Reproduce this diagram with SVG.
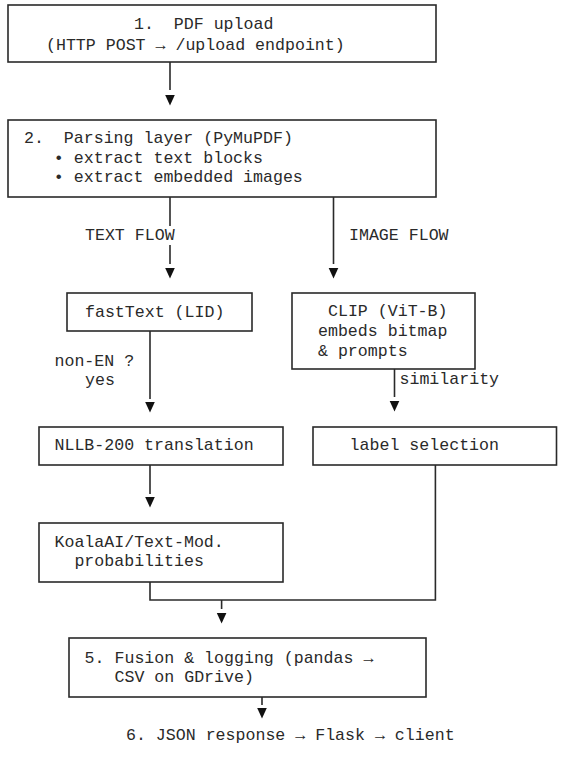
<svg xmlns="http://www.w3.org/2000/svg" xmlns:xlink="http://www.w3.org/1999/xlink" width="577" height="760" viewBox="0 0 577 760">
<style>
  .box { fill: #ffffff; stroke: #2a2a2a; stroke-width: 1.6; }
  .t { font-family: "Liberation Mono", "DejaVu Sans Mono", monospace; font-size: 16.6px; fill: #2a2a2a; white-space: pre; }
  .ln { stroke: #2a2a2a; stroke-width: 1.6; fill: none; }
  .ah { fill: #111111; }
</style>
<defs>
  <path id="head" d="M-4.8,0 L4.8,0 L0,10.5 Z"/>
</defs>
<rect width="577" height="760" fill="#ffffff"/>

<g id="n1">
  <rect class="box" x="8" y="5" width="428" height="57"/>
  <text class="t" x="134" y="29">1.  PDF upload</text>
  <text class="t" x="46" y="50">(HTTP POST → /upload endpoint)</text>
</g>

<g id="n2">
  <rect class="box" x="8" y="120" width="428" height="77"/>
  <text class="t" x="24" y="143">2.  Parsing layer (PyMuPDF)</text>
  <text class="t" x="24" y="163">   • extract text blocks</text>
  <text class="t" x="24" y="182">   • extract embedded images</text>
</g>

<g id="n3">
  <rect class="box" x="67" y="293" width="185" height="38"/>
  <text class="t" x="85" y="317">fastText (LID)</text>
</g>

<g id="n4">
  <rect class="box" x="292" y="293" width="183" height="76"/>
  <text class="t" x="328" y="316">CLIP (ViT-B)</text>
  <text class="t" x="318" y="336">embeds bitmap</text>
  <text class="t" x="318" y="356">&amp; prompts</text>
</g>

<g id="n5">
  <rect class="box" x="39" y="427" width="244" height="38"/>
  <text class="t" x="54.5" y="450">NLLB-200 translation</text>
</g>

<g id="n6">
  <rect class="box" x="313" y="427" width="243.5" height="38"/>
  <text class="t" x="349.6" y="450">label selection</text>
</g>

<g id="n7">
  <rect class="box" x="39" y="523" width="244" height="59"/>
  <text class="t" x="54.5" y="547">KoalaAI/Text-Mod.</text>
  <text class="t" x="54.5" y="566">  probabilities</text>
</g>

<g id="n8">
  <rect class="box" x="69" y="638" width="357" height="59"/>
  <text class="t" x="84.6" y="663">5. Fusion &amp; logging (pandas →</text>
  <text class="t" x="84.6" y="682">   CSV on GDrive)</text>
</g>

<g id="n9">
  <text class="t" x="126" y="740">6. JSON response → Flask → client</text>
</g>

<g id="connectors">
  <line class="ln" x1="170" y1="62" x2="170" y2="90"/>
  <use href="#head" xlink:href="#head" class="ah" x="170" y="95"/>

  <line class="ln" x1="170" y1="197" x2="170" y2="226"/>
  <line class="ln" x1="170" y1="245" x2="170" y2="264"/>
  <use href="#head" xlink:href="#head" class="ah" x="170" y="268"/>
  <text class="t" x="85" y="240">TEXT FLOW</text>

  <line class="ln" x1="333.5" y1="197" x2="333.5" y2="264"/>
  <use href="#head" xlink:href="#head" class="ah" x="333.5" y="268"/>
  <text class="t" x="349" y="240">IMAGE FLOW</text>

  <line class="ln" x1="150" y1="331" x2="150" y2="399"/>
  <use href="#head" xlink:href="#head" class="ah" x="150" y="402"/>
  <text class="t" x="54.5" y="366">non-EN ?</text>
  <text class="t" x="85" y="385">yes</text>

  <line class="ln" x1="394.5" y1="369" x2="394.5" y2="397"/>
  <use href="#head" xlink:href="#head" class="ah" x="394.5" y="401"/>
  <text class="t" x="399.5" y="384">similarity</text>

  <line class="ln" x1="150" y1="465" x2="150" y2="494"/>
  <use href="#head" xlink:href="#head" class="ah" x="150" y="497"/>

  <polyline class="ln" points="150,582 150,600 435.4,600 435.4,465"/>
  <line class="ln" x1="221.6" y1="600" x2="221.6" y2="609"/>
  <use href="#head" xlink:href="#head" class="ah" x="221.6" y="613"/>

  <line class="ln" x1="262" y1="697" x2="262" y2="705"/>
  <use href="#head" xlink:href="#head" class="ah" x="262" y="708"/>
</g>
</svg>
